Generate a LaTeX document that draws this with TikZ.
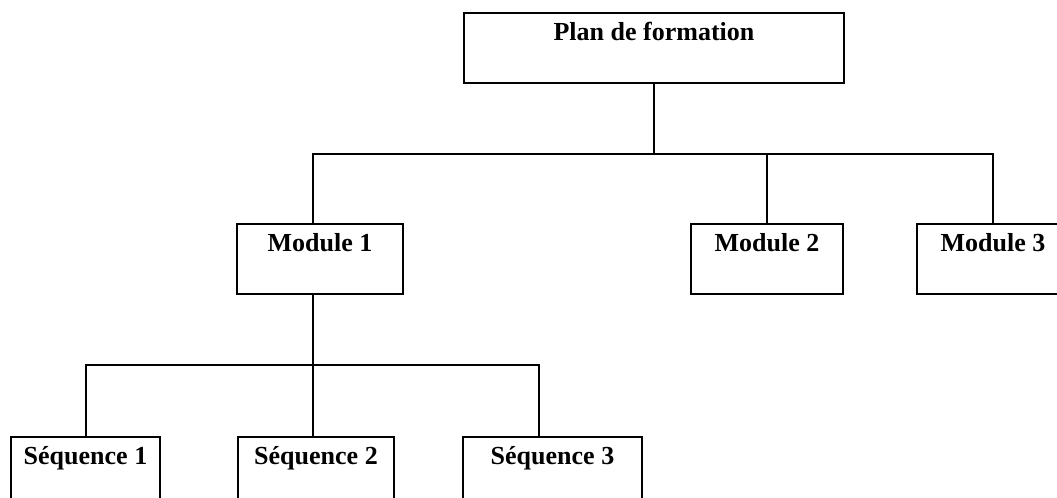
\documentclass[tikz,border=0pt]{standalone}
\usepackage{fontspec}
\setmainfont{Liberation Serif}
\usepackage{tikz}
\usetikzlibrary{positioning, calc}

\begin{document}
\begin{tikzpicture}
    [x=0.4615pt, y=-0.4615pt, line width=0.9pt,
     every node/.style={draw, rectangle, inner xsep=0pt, inner ysep=0pt,
       text height=12.5pt, text depth=19.8pt, align=center,
       font=\fontsize{12}{14}\selectfont\bfseries}]
    \useasboundingbox (0,0) rectangle (1057,498);
    \clip (0,0) rectangle (1057,498);

    \node [minimum width=175.4pt] (plan) at (654,48) {Plan de formation};

    \node [minimum width=76.6pt] (mod1) at (320,259) {Module 1};
    \node [minimum width=70.1pt] (mod2) at (767,259) {Module 2};
    \node [minimum width=70.1pt] (mod3) at (993,259) {Module 3};

    \node [minimum width=68.8pt] (seq1) at (85.5,472) {Séquence 1};
    \node [minimum width=72pt] (seq2) at (316,472) {Séquence 2};
    \node [minimum width=82.6pt] (seq3) at (552.5,472) {Séquence 3};

    \coordinate (x) at (654,154);
    \coordinate (x1) at (313,154);
    \coordinate (x2) at (767,154);
    \coordinate (x3) at (993,154);
    \draw (plan) -- (x);
    \draw (x1 |- mod1.north) -- (x1) -- (x3) -- (mod3);
    \draw (x2) -- (mod2);

    \coordinate (y) at (313,365);
    \coordinate (y1) at (86,365);
    \coordinate (y3) at (539,365);
    \draw (y |- mod1.south) -- (y) -- (y |- seq2.north);
    \draw (y1 |- seq1.north) -- (y1) -- (y3) -- (y3 |- seq3.north);
  \end{tikzpicture}
\end{document}
